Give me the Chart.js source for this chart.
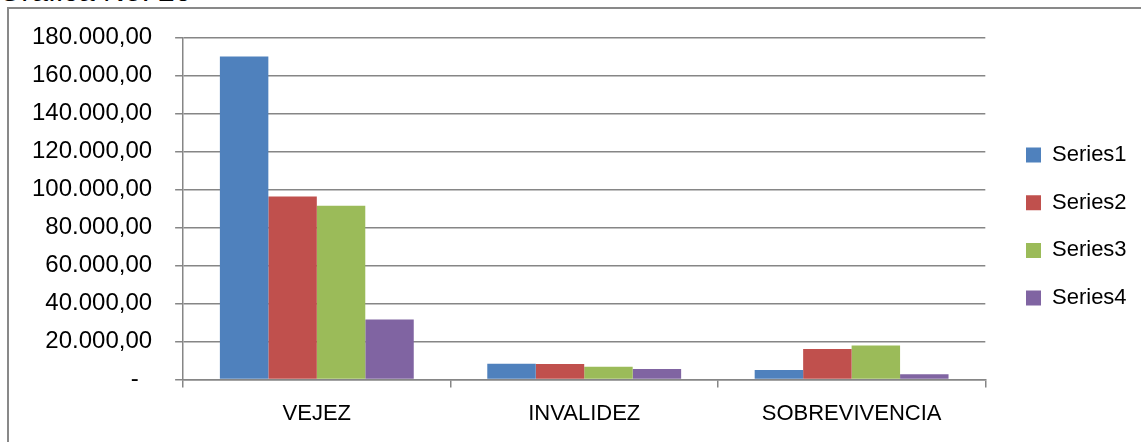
<!DOCTYPE html>
<html>
<head>
<meta charset="utf-8">
<script src="https://cdn.jsdelivr.net/npm/chart.js@4/dist/chart.umd.min.js"></script>
<style>
  html, body { margin: 0; padding: 0; background: #fff; overflow: hidden; }
  #wrap { position: relative; width: 1141px; height: 442px; overflow: hidden; background: #fff; }
  #frame { position: absolute; left: 7px; top: 7px; width: 1300px; height: 600px;
           border-left: 2px solid #898989; border-top: 2px solid #898989; }
  #heading { position: absolute; left: -2px; top: -24px; font: 30px 'Liberation Sans', Arial, sans-serif;
             line-height: 30px; color: #000; white-space: nowrap; }
  canvas { position: absolute; left: 0; top: 0; }
</style>
</head>
<body>
<div id="wrap">
  <div id="frame"></div>
  <div id="heading">Gráfica No. 20</div>
  <canvas id="chart" width="1141" height="442"></canvas>
</div>
<script>
// Pension amounts by benefit type
const categories = ['VEJEZ', 'INVALIDEZ', 'SOBREVIVENCIA'];
const seriesNames = ['Series1', 'Series2', 'Series3', 'Series4'];
const series1 = [170000, 8300, 5000];
const series2 = [96300, 8150, 16000];
const series3 = [91400, 6700, 17950];
const series4 = [31600, 5500, 2700];
const yMin = 0;
const yMax = 180000;
const yStep = 20000;

const seriesValues = [series1, series2, series3, series4];
const seriesColors = ['#4F81BD', '#C0504D', '#9BBB59', '#8064A2'];
const gridColor = '#868686';
const FONT = "'Liberation Sans', Arial, sans-serif";

// 180000 -> "180.000,00"; zero shown as a dash
function formatAmount(v) {
  if (v === 0) return '-\u00a0\u00a0';
  const whole = Math.round(v).toString().replace(/\B(?=(\d{3})+(?!\d))/g, '.');
  return whole + ',00';
}

new Chart(document.getElementById('chart'), {
  type: 'bar',
  data: {
    labels: categories,
    datasets: seriesNames.map((name, i) => ({
      label: name,
      data: seriesValues[i],
      backgroundColor: seriesColors[i],
      borderWidth: 0,
      categoryPercentage: 0.725,
      barPercentage: 1
    }))
  },
  options: {
    responsive: false,
    animation: false,
    layout: { padding: { top: 21.6, bottom: 10.5, left: 9, right: 4.4 } },
    plugins: {
      title: { display: false },
      tooltip: { enabled: false },
      legend: {
        position: 'right',
        labels: {
          boxWidth: 15,
          boxHeight: 15,
          padding: 25.7,
          color: '#000',
          font: { family: FONT, size: 22 }
        }
      }
    },
    scales: {
      x: {
        grid: {
          display: true,
          offset: true,
          drawOnChartArea: false,
          drawTicks: true,
          tickLength: 8,
          color: gridColor,
          lineWidth: 1.5
        },
        border: { display: true, color: gridColor, width: 1.5 },
        ticks: { color: '#000', font: { family: FONT, size: 22 }, padding: 13 },
        afterFit(scale) { scale.height = 52; }
      },
      y: {
        min: yMin,
        max: yMax,
        grid: {
          color: gridColor,
          lineWidth: 1.5,
          drawTicks: true,
          tickLength: 8
        },
        border: { display: true, color: gridColor, width: 1.5 },
        ticks: {
          stepSize: yStep,
          color: '#000',
          padding: 23,
          font: { family: FONT, size: 24 },
          callback: (v) => formatAmount(v)
        }
      },
      gap: {
        type: 'linear',
        position: 'right',
        display: true,
        grid: { display: false },
        border: { display: false },
        ticks: { display: false },
        afterFit(scale) { scale.width = 15; }
      }
    }
  }
});
</script>
</body>
</html>
